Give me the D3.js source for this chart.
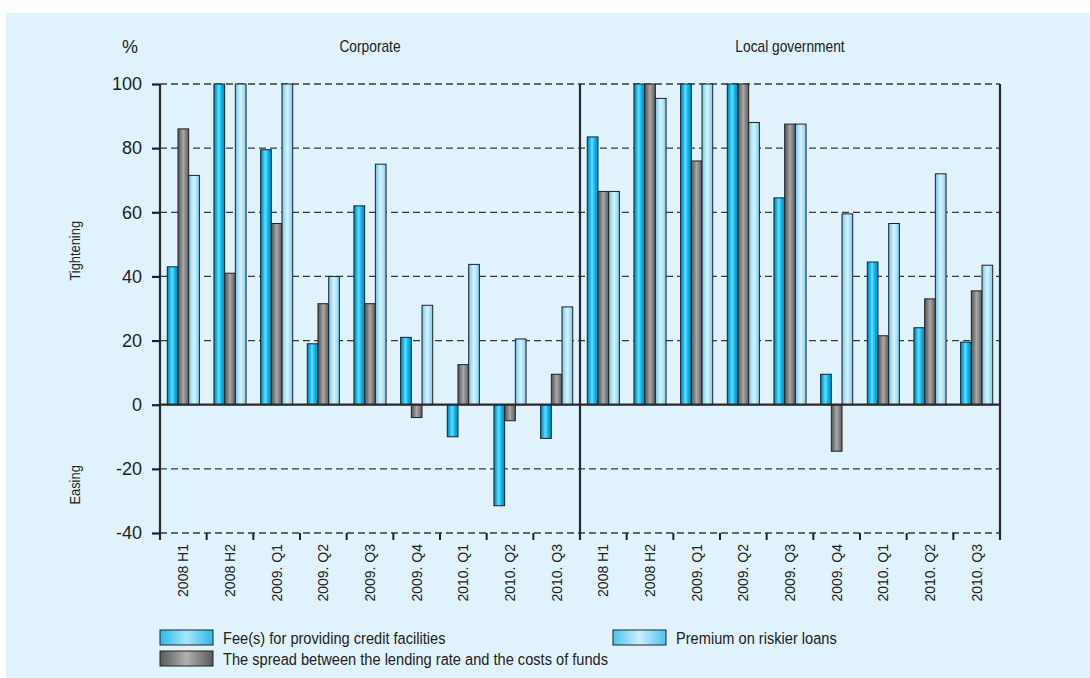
<!DOCTYPE html>
<html><head><meta charset="utf-8">
<script src="https://cdn.jsdelivr.net/npm/d3@7"></script>
<style>
html,body{margin:0;padding:0;background:#fff;}
svg{display:block;}
</style></head>
<body>
<svg id="chart" width="1090" height="678"></svg>
<script>
const categories = ["2008 H1","2008 H2","2009. Q1","2009. Q2","2009. Q3","2009. Q4","2010. Q1","2010. Q2","2010. Q3"];
const panels = ["Corporate","Local government"];
const seriesNames = ["Fee(s) for providing credit facilities","The spread between the lending rate and the costs of funds","Premium on riskier loans"];
const corpFee     = [43, 100, 79.5, 19, 62, 21, -10, -31.5, -10.5];
const corpSpread  = [86, 41, 56.5, 31.5, 31.5, -4, 12.5, -5, 9.5];
const corpPremium = [71.5, 100, 100, 40, 75, 31, 43.75, 20.5, 30.5];
const localFee     = [83.5, 100, 100, 100, 64.5, 9.5, 44.5, 24, 19.5];
const localSpread  = [66.5, 100, 76, 100, 87.5, -14.5, 21.5, 33, 35.5];
const localPremium = [66.5, 95.5, 100, 88, 87.5, 59.5, 56.5, 72, 43.5];
const yTicks = [-40, -20, 0, 20, 40, 60, 80, 100];

const panelData = [
  [corpFee, corpSpread, corpPremium],
  [localFee, localSpread, localPremium]
];

const svg = d3.select("#chart");
svg.append("rect").attr("x",6).attr("y",13).attr("width",1084).attr("height",665).attr("fill","#e0f2fc");

const defs = svg.append("defs");
function grad(id, stops){
  const g = defs.append("linearGradient").attr("id",id).attr("x1","0%").attr("x2","100%").attr("y1","0%").attr("y2","0%");
  stops.forEach(s=>g.append("stop").attr("offset",s[0]).attr("stop-color",s[1]));
}
grad("gFee",[["0%","#0a7aaa"],["20%","#00b4ee"],["45%","#70d8fa"],["70%","#00b8f0"],["100%","#0a86b8"]]);
grad("gSpread",[["0%","#555"],["25%","#7c7c7c"],["50%","#a9a9a9"],["75%","#808080"],["100%","#5c5c5c"]]);
grad("gPrem",[["0%","#6cbfe4"],["25%","#a6e0f8"],["50%","#d9f3fe"],["75%","#a9e1f8"],["100%","#75c6ea"]]);
const fills = ["url(#gFee)","url(#gSpread)","url(#gPrem)"];
grad("lFee",[["0%","#2ab8ea"],["50%","#a9e6fb"],["100%","#2ab8ea"]]);
grad("lSpread",[["0%","#5a5a5a"],["50%","#b0b0b0"],["100%","#5a5a5a"]]);
grad("lPrem",[["0%","#4cc4f0"],["50%","#c9effd"],["100%","#4cc4f0"]]);
const lfills = ["url(#lFee)","url(#lSpread)","url(#lPrem)"];

const mLeft = 160, mRight = 1000, mTop = 84, mBottom = 533;
const y = d3.scaleLinear().domain([-40,100]).range([mBottom, mTop]);
const xPanel = d3.scaleBand().domain(panels).range([mLeft,mRight]);
const xCat = d3.scaleBand().domain(categories).range([0, xPanel.bandwidth()]);
const xSer = d3.scaleBand().domain([0,1,2]).range([0, xCat.bandwidth()]).paddingOuter(0.68);
const narrow = "Liberation Sans, Arial, sans-serif";
const squeeze = 0.86;

svg.append("g").selectAll("line").data(yTicks.filter(d=>d!==0)).join("line")
  .attr("x1",mLeft).attr("x2",mRight).attr("y1",d=>y(d)).attr("y2",d=>y(d))
  .attr("stroke","#3a3a3a").attr("stroke-width",1.3).attr("stroke-dasharray","7,4");

panels.forEach((p,pi)=>{
  const g = svg.append("g").attr("transform",`translate(${xPanel(p)},0)`);
  panelData[pi].forEach((vals,si)=>{
    g.append("g").selectAll("rect").data(vals).join("rect")
      .attr("x",(d,i)=>xCat(categories[i])+xSer(si))
      .attr("width",xSer.bandwidth())
      .attr("y",d=>y(Math.max(0,d)))
      .attr("height",d=>Math.abs(y(d)-y(0)))
      .attr("fill",fills[si]).attr("stroke","#222").attr("stroke-width",1);
  });
  const ax = d3.axisBottom(xCat).tickSize(0).tickFormat(d=>d);
  const axg = g.append("g").attr("transform",`translate(0,${mBottom})`).call(ax);
  axg.select(".domain").remove();
  axg.selectAll("text").attr("transform","rotate(-90)").attr("text-anchor","end")
    .attr("x",-11).attr("y",0).attr("dy","0.35em")
    .style("font-family","Liberation Sans, Arial, sans-serif").style("font-size","14px").attr("fill","#222");
  g.append("g").selectAll("line").data(categories.slice(1)).join("line")
    .attr("x1",d=>xCat(d)).attr("x2",d=>xCat(d)).attr("y1",mBottom).attr("y2",mBottom+7)
    .attr("stroke","#222").attr("stroke-width",2);
  svg.append("text").attr("transform",`translate(${xPanel(p)+xPanel.bandwidth()/2},52) scale(${squeeze},1)`).attr("text-anchor","middle")
    .style("font-family",narrow).style("font-size","16px").attr("fill","#222").text(p);
});

svg.append("line").attr("x1",mLeft).attr("x2",mRight).attr("y1",y(0)).attr("y2",y(0)).attr("stroke","#2a2a2a").attr("stroke-width",2.2);

[mLeft, xPanel(panels[1]), mRight].forEach(xv=>{
  svg.append("line").attr("x1",xv).attr("x2",xv).attr("y1",mTop).attr("y2",mBottom+7).attr("stroke","#2a2a2a").attr("stroke-width",2.2);
});

const yAx = d3.axisLeft(y).tickValues(yTicks).tickSize(8).tickPadding(10).tickFormat(d=>String(d));
const yg = svg.append("g").attr("transform",`translate(${mLeft},0)`).call(yAx);
yg.select(".domain").remove();
yg.selectAll("line").attr("stroke","#222").attr("stroke-width",2.2);
yg.selectAll("text").style("font-family","Liberation Sans, Arial, sans-serif").style("font-size","18px").attr("fill","#222");

svg.append("text").attr("x",130).attr("y",53).attr("text-anchor","middle")
  .style("font-family","Liberation Sans, Arial, sans-serif").style("font-size","18px").attr("fill","#222").text("%");

svg.append("text").attr("transform",`translate(80,${y(48)}) rotate(-90) scale(${squeeze},1)`).attr("text-anchor","middle")
  .style("font-family",narrow).style("font-size","15px").attr("fill","#222").text("Tightening");
svg.append("text").attr("transform",`translate(80,${y(-25)}) rotate(-90) scale(${squeeze},1)`).attr("text-anchor","middle")
  .style("font-family",narrow).style("font-size","15px").attr("fill","#222").text("Easing");

const legPos = [[160,630],[160,651],[613,630]];
seriesNames.forEach((s,i)=>{
  const lg = svg.append("g").attr("transform",`translate(${legPos[i][0]},${legPos[i][1]})`);
  lg.append("rect").attr("width",53).attr("height",15).attr("fill",lfills[i]).attr("stroke","#222").attr("stroke-width",1);
  lg.append("text").attr("transform",`translate(63,8) scale(${squeeze},1)`).attr("dy","0.35em")
    .style("font-family",narrow).style("font-size","17px").attr("fill","#222").text(s);
});
</script>
</body></html>
